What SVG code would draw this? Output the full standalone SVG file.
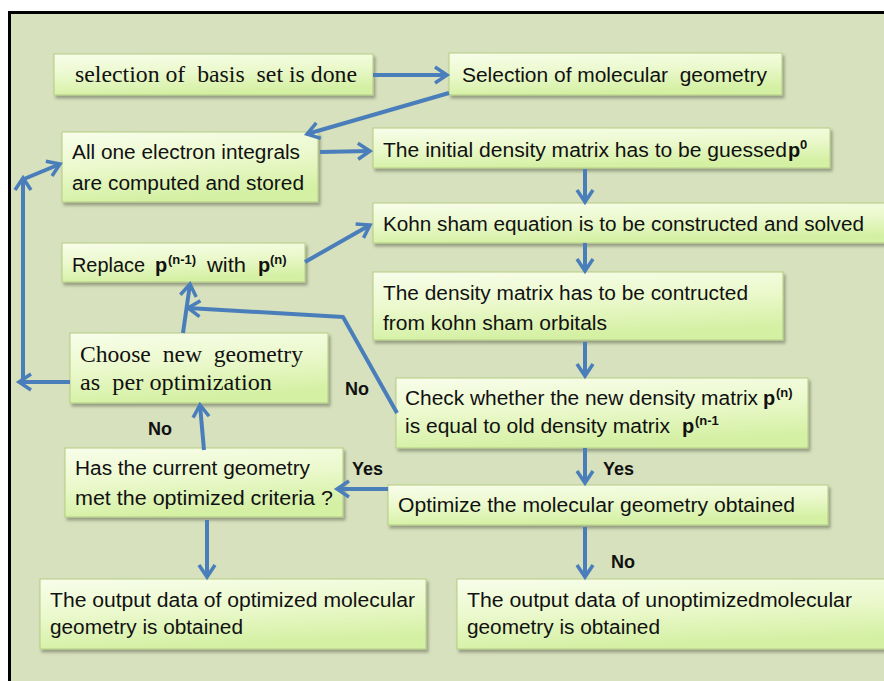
<svg xmlns="http://www.w3.org/2000/svg" width="884" height="681" viewBox="0 0 884 681">
  <style>
    .box { fill: url(#boxFill); stroke: #b3cc84; stroke-width: 1; filter: url(#shadow); }
    .t { font-family: "Liberation Sans", Arial, sans-serif; font-size: 20px; fill: #111; white-space: pre; }
    .s { font-family: "Liberation Serif", "Times New Roman", serif; font-size: 22.5px; fill: #111; white-space: pre; }
    .b { font-weight: bold; }
    .sup { font-family: "Liberation Sans", Arial, sans-serif; font-size: 13px; font-weight: bold; fill: #111; }
    .lbl { font-family: "Liberation Sans", Arial, sans-serif; font-size: 18px; font-weight: bold; fill: #111; }
    .c { fill: none; stroke: #4a7ebb; stroke-width: 4; stroke-linejoin: round; marker-end: url(#head); }
  </style>
  <defs>
    <linearGradient id="boxFill" x1="0" y1="0" x2="0.25" y2="1">
      <stop offset="0" stop-color="#f8fdea"/>
      <stop offset="0.5" stop-color="#ebf9cd"/>
      <stop offset="1" stop-color="#d4f0a3"/>
    </linearGradient>
    <filter id="shadow" x="-5%" y="-20%" width="115%" height="150%">
      <feDropShadow dx="2" dy="3" stdDeviation="1.5" flood-color="#000" flood-opacity="0.3"/>
    </filter>
    <marker id="head" markerUnits="userSpaceOnUse" viewBox="0 0 16 20" markerWidth="16" markerHeight="20" refX="14" refY="10" orient="auto" overflow="visible">
      <path d="M2,2 L14,10 L2,18" fill="none" stroke="#4a7ebb" stroke-width="3.5" stroke-linejoin="miter"/>
    </marker>
  </defs>

  <!-- page frame -->
  <rect x="0" y="0" width="884" height="681" fill="#ffffff"/>
  <rect x="9.5" y="12.5" width="900" height="700" fill="#d7e1bd" stroke="#000" stroke-width="3"/>

  <!-- branch labels -->
  <g id="labels">
    <text class="lbl" x="345" y="395">No</text>
    <text class="lbl" x="148" y="435">No</text>
    <text class="lbl" x="352" y="475">Yes</text>
    <text class="lbl" x="603" y="475">Yes</text>
    <text class="lbl" x="611" y="568">No</text>
  </g>

  <g id="basis">
    <rect class="box" x="54" y="54" width="319" height="41"/>
    <text class="s" x="75" y="82" textLength="282" lengthAdjust="spacingAndGlyphs">selection of  basis  set is done</text>
  </g>

  <g id="geometry">
    <rect class="box" x="449" y="53" width="333" height="42"/>
    <text class="t" x="462" y="82" textLength="305" lengthAdjust="spacingAndGlyphs">Selection of molecular  geometry</text>
  </g>

  <g id="integrals">
    <rect class="box" x="62" y="132" width="256" height="70"/>
    <text class="t" x="72" y="159" textLength="228" lengthAdjust="spacingAndGlyphs">All one electron integrals</text>
    <text class="t" x="72" y="190" textLength="232" lengthAdjust="spacingAndGlyphs">are computed and stored</text>
  </g>

  <g id="guess">
    <rect class="box" x="373" y="128" width="457" height="40"/>
    <text class="t" x="383" y="157" textLength="404" lengthAdjust="spacingAndGlyphs">The initial density matrix has to be guessed</text>
    <text class="t b" x="788" y="157">p</text>
    <text class="sup" x="800" y="149">0</text>
  </g>

  <g id="kohnsham">
    <rect class="box" x="373" y="203" width="520" height="40"/>
    <text class="t" x="383" y="231" textLength="481" lengthAdjust="spacingAndGlyphs">Kohn sham equation is to be constructed and solved</text>
  </g>

  <g id="replace">
    <rect class="box" x="62" y="243" width="243" height="39"/>
    <text class="t" x="72" y="272" textLength="73" lengthAdjust="spacingAndGlyphs">Replace</text>
    <text class="t b" x="155" y="272">p</text>
    <text class="sup" x="168" y="264">(n-1)</text>
    <text class="t" x="207" y="272" textLength="39" lengthAdjust="spacingAndGlyphs">with</text>
    <text class="t b" x="258" y="272">p</text>
    <text class="sup" x="270" y="264">(n)</text>
  </g>

  <g id="density">
    <rect class="box" x="373" y="272" width="410" height="68"/>
    <text class="t" x="383" y="300" textLength="365" lengthAdjust="spacingAndGlyphs">The density matrix has to be contructed</text>
    <text class="t" x="383" y="330" textLength="224" lengthAdjust="spacingAndGlyphs">from kohn sham orbitals</text>
  </g>

  <g id="newgeometry">
    <rect class="box" x="70" y="333" width="258" height="70"/>
    <text class="s" x="80" y="362" textLength="223" lengthAdjust="spacingAndGlyphs">Choose  new  geometry</text>
    <text class="s" x="80" y="390" textLength="192" lengthAdjust="spacingAndGlyphs">as  per optimization</text>
  </g>

  <g id="check">
    <rect class="box" x="396" y="378" width="412" height="70"/>
    <text class="t" x="405" y="405" textLength="353" lengthAdjust="spacingAndGlyphs">Check whether the new density matrix</text>
    <text class="t b" x="763" y="405">p</text>
    <text class="sup" x="776" y="397">(n)</text>
    <text class="t" x="405" y="433" textLength="265" lengthAdjust="spacingAndGlyphs">is equal to old density matrix</text>
    <text class="t b" x="682" y="433">p</text>
    <text class="sup" x="695" y="425">(n-1</text>
  </g>

  <g id="criteria">
    <rect class="box" x="65" y="448" width="278" height="69"/>
    <text class="t" x="75" y="475" textLength="235" lengthAdjust="spacingAndGlyphs">Has the current geometry</text>
    <text class="t" x="75" y="505" textLength="258" lengthAdjust="spacingAndGlyphs">met the optimized criteria ?</text>
  </g>

  <g id="optimize">
    <rect class="box" x="388" y="485" width="440" height="40"/>
    <text class="t" x="398" y="512" textLength="397" lengthAdjust="spacingAndGlyphs">Optimize the molecular geometry obtained</text>
  </g>

  <g id="optimized">
    <rect class="box" x="40" y="579" width="386" height="70"/>
    <text class="t" x="50" y="607" textLength="365" lengthAdjust="spacingAndGlyphs">The output data of optimized molecular</text>
    <text class="t" x="50" y="634" textLength="193" lengthAdjust="spacingAndGlyphs">geometry is obtained</text>
  </g>

  <g id="unoptimized">
    <rect class="box" x="457" y="579" width="440" height="70"/>
    <text class="t" x="467" y="607" textLength="385" lengthAdjust="spacingAndGlyphs">The output data of unoptimizedmolecular</text>
    <text class="t" x="467" y="634" textLength="193" lengthAdjust="spacingAndGlyphs">geometry is obtained</text>
  </g>

  <!-- connectors, drawn over the boxes so heads touching an edge stay visible -->
  <g id="connectors">
    <path class="c" d="M373,75 L447,75"/>
    <path class="c" d="M449,93 L307,134"/>
    <path class="c" d="M320,152 L370,151"/>
    <path class="c" d="M585,169 L585,202"/>
    <path class="c" d="M305,262 L370,225"/>
    <path class="c" d="M585,243 L585,271"/>
    <path class="c" d="M585,342 L585,376"/>
    <path class="c" d="M397,413 L343,317 L188,308"/>
    <path class="c" d="M183,333 L190,284"/>
    <path class="c" d="M70,382 L19,382"/>
    <path class="c" d="M23,382 L23,178"/>
    <path class="c" d="M24,179 L60,164"/>
    <path class="c" d="M585,448 L585,483"/>
    <path class="c" d="M388,489 L337,489"/>
    <path class="c" d="M204,450 L200,405"/>
    <path class="c" d="M207,520 L207,577"/>
    <path class="c" d="M585,527 L585,577"/>
  </g>
</svg>
